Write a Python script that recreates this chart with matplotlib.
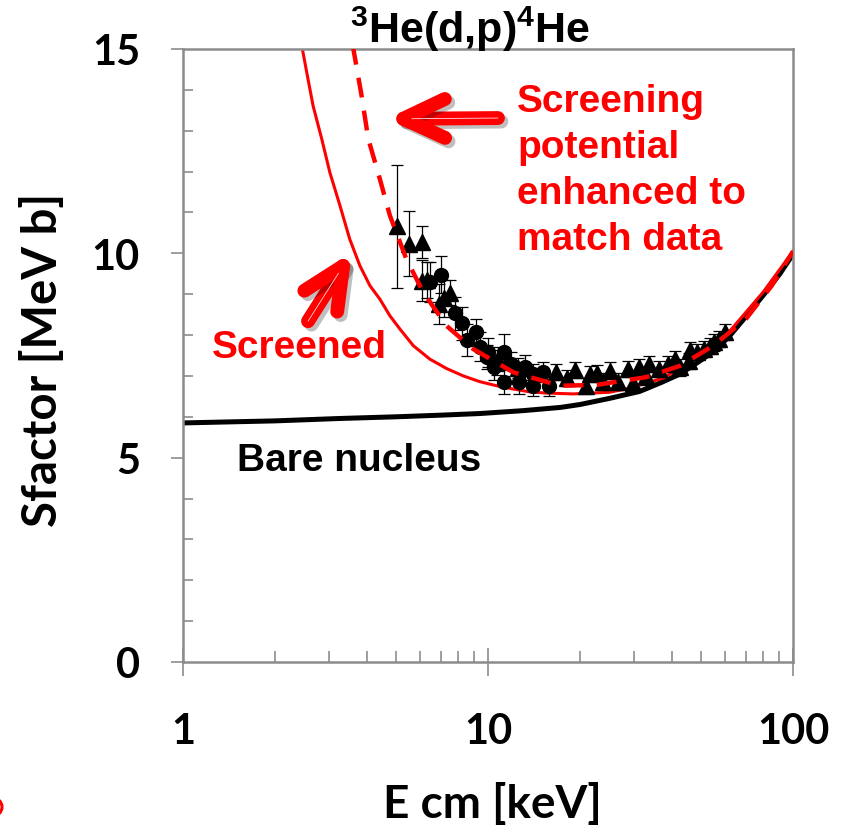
import numpy as np
import matplotlib
matplotlib.use("Agg")
import matplotlib.pyplot as plt
import matplotlib.patheffects as pe
from matplotlib.patches import Ellipse
from matplotlib.ticker import MultipleLocator, NullFormatter

plt.rcParams['mathtext.fontset'] = 'custom'
plt.rcParams['mathtext.rm'] = 'Liberation Sans:bold'
plt.rcParams['mathtext.bf'] = 'Liberation Sans:bold'

##data
# bare nucleus S-factor
bare_E = [1, 2, 3.3, 5, 7, 9.4, 13, 17.3, 20, 25, 31.4, 37, 42.7, 48, 55, 62, 70, 80, 90.6, 100]
bare_S = [5.85, 5.9, 5.96, 6.0, 6.04, 6.08, 6.15, 6.23, 6.3, 6.45, 6.62, 6.84, 7.05, 7.3, 7.6, 7.98, 8.45, 8.98, 9.5, 9.98]

# screened
scr_E = [2.42, 2.57, 2.67, 2.85, 3.03, 3.27, 3.52, 3.8, 4.1, 4.42, 4.77, 5.14, 5.69, 6.45,
         7.32, 8.3, 9.4, 10.67, 12.1, 13.7, 15.6, 19.0, 25, 29.2, 37.6, 48.4, 62.1, 79.8, 100]
scr_S = [15.3, 14.26, 13.61, 12.8, 11.98, 11.17, 10.35, 9.7, 9.21, 8.88, 8.47, 8.15, 7.74, 7.41,
         7.18, 7.0, 6.86, 6.76, 6.68, 6.61, 6.58, 6.56, 6.6, 6.7, 6.95, 7.45, 8.1, 9.05, 10.05]

# screening potential enhanced (dashed)
enh_E = [3.6, 3.85, 4.05, 4.42, 4.77, 5.4, 6.13, 7.3, 8.94, 12.1, 17.2, 22.7, 33.0, 42.7, 55, 70.2, 85, 100]
enh_S = [15.1, 13.86, 12.8, 11.82, 10.92, 9.86, 9.05, 8.23, 7.66, 7.09, 6.76, 6.78, 6.97, 7.25, 7.75, 8.4, 9.2, 10.05]

# data, triangles
tri_E = [5.02, 5.52, 6.06, 6.06, 6.3, 6.93, 7.2, 7.51, 10.67, 10.75, 12.5,
         16.7, 18.1, 19.3, 20.9, 21.6, 22.8, 23.9, 25.1, 26.7, 28.8, 29.9, 31.2,
         33.0, 33.7, 36.3, 39.0, 41.1, 42.7, 45.5, 45.8, 48.4, 50.9, 53.6, 54.9,
         57.0, 59.9]
tri_S = [10.66, 10.24, 10.28, 9.33, 9.35, 8.76, 8.9, 9.04, 7.33, 7.41, 7.2,
         7.09, 6.95, 7.14, 6.76, 7.05, 7.07, 6.86, 7.13, 6.86, 7.17, 6.83, 7.21,
         6.99, 7.29, 7.17, 7.29, 7.41, 7.21, 7.37, 7.64, 7.58, 7.66, 7.74, 7.82,
         7.90, 8.07]
tri_err = [1.5, 0.8, 0.4, 0.5, 0.45, 0.5, 0.45, 0.3, 0.3, 0.3, 0.25,
           0.2, 0.2, 0.2, 0.2, 0.2, 0.2, 0.2, 0.2, 0.2, 0.2, 0.2, 0.2,
           0.2, 0.2, 0.2, 0.2, 0.2, 0.2, 0.2, 0.2, 0.2, 0.2, 0.2, 0.2,
           0.2, 0.2]

# data, circles
cir_E = [6.45, 7.01, 7.8, 8.2, 9.1, 8.55, 9.4, 10.0, 9.9, 10.5, 11.3, 11.9,
         11.3, 12.6, 13.2, 14.0, 14.0, 15.2, 15.8]
cir_S = [9.3, 9.48, 8.53, 8.29, 8.07, 7.88, 7.72, 7.58, 7.46, 7.21, 7.59, 7.29,
         6.86, 6.86, 7.21, 7.05, 6.75, 7.1, 6.75]
cir_err = [0.5, 0.45, 0.4, 0.4, 0.33, 0.4, 0.35, 0.35, 0.3, 0.3, 0.44, 0.3,
           0.3, 0.3, 0.3, 0.25, 0.25, 0.25, 0.25]

W, H = 848, 829

def fx(px):
    return px / W

def fy(py):
    return 1 - py / H

def main():
    fig = plt.figure(figsize=(W / 100, H / 100), dpi=100)
    ax = fig.add_axes([fx(183), fy(663), fx(793) - fx(183), fy(50) - fy(663)])
    ax.set_xscale("log")

    ax.plot(bare_E, bare_S, color="black", lw=3.6, zorder=2, solid_capstyle="butt")
    ax.plot(scr_E, scr_S, color="red", lw=2.2, zorder=2)

    ax.errorbar(tri_E, tri_S, yerr=tri_err, fmt="^", color="black", ms=11,
                ecolor="black", elinewidth=0.9, capsize=4, capthick=0.9, zorder=3)
    ax.errorbar(cir_E, cir_S, yerr=cir_err, fmt="o", color="black", ms=10,
                ecolor="black", elinewidth=0.9, capsize=4, capthick=0.9, zorder=3)

    ax.plot(enh_E, enh_S, color="red", lw=3.2, ls=(0, (4.5, 3)), zorder=4)

    ax.set_xlim(1, 100)
    ax.set_ylim(0, 15)

    gray = "#8c8c8c"
    for s in ax.spines.values():
        s.set_color(gray)
        s.set_linewidth(1.8)

    ax.set_yticks([0, 5, 10, 15])
    ax.yaxis.set_minor_locator(MultipleLocator(1))
    ax.set_xticks([1, 10, 100], ["1", "10", "100"])
    ax.xaxis.set_minor_formatter(NullFormatter())

    ax.tick_params(axis="y", which="major", direction="out", length=9, width=1.2,
                   color=gray, pad=22, labelsize=30)
    ax.tick_params(axis="y", which="minor", direction="in", length=7, width=1.2, color=gray)
    ax.tick_params(axis="x", which="major", direction="inout", length=20, width=1.2,
                   color=gray, pad=26, labelsize=30)
    ax.tick_params(axis="x", which="minor", direction="in", length=8, width=1.2, color=gray)
    for lab in ax.get_xticklabels() + ax.get_yticklabels():
        lab.set_fontfamily("Lato")
        lab.set_fontweight("bold")

    fig.text(fx(43), fy(360), "Sfactor [MeV b]", rotation=90, ha="center", va="center",
             fontsize=34, fontweight="bold", family="Lato")
    fig.text(fx(492), fy(805), "E cm [keV]", ha="center", va="center",
             fontsize=33, fontweight="bold", family="Lato")

    fig.text(fx(470), fy(29), r"$^{3}$He(d,p)$^{4}$He", ha="center", va="center",
             fontsize=31, fontweight="bold", family="Liberation Sans")

    tkw = dict(fontsize=28, fontweight="bold", family="Liberation Sans")
    lines = ["Screening", "potential", "enhanced to", "match data"]
    for i, t in enumerate(lines):
        fig.text(fx(517), fy(112 + 46 * i), t, color="red", ha="left", va="baseline", **tkw)
    fig.text(fx(212), fy(358), "Screened", color="red", ha="left", va="baseline", **tkw)
    fig.text(fx(237), fy(471), "Bare nucleus", color="black", ha="left", va="baseline", **tkw)

    # arrows
    shadow = [pe.SimpleLineShadow(offset=(2.5, -2.5), shadow_color="k", alpha=0.25), pe.Normal()]
    arrows = [((10.78, 13.31), (4.66, 13.29)), ((2.57, 8.34), (3.58, 10.03))]
    for tail, tip in arrows:
        ax.annotate("", xy=tip, xytext=tail, xycoords="data", textcoords="data",
                    arrowprops=dict(arrowstyle="->,head_length=3.0,head_width=1.4",
                                    mutation_scale=10, lw=10, color="red",
                                    capstyle="round", joinstyle="round",
                                    shrinkA=0, shrinkB=0, path_effects=shadow),
                    annotation_clip=False, zorder=5)
        ax.annotate("", xy=tip, xytext=tail, xycoords="data", textcoords="data",
                    arrowprops=dict(arrowstyle="-", lw=0.6, color="#ffd6d6",
                                    shrinkA=0, shrinkB=18),
                    annotation_clip=False, zorder=6)

    fig.add_artist(Ellipse((fx(-7), fy(808)), 18 / W, 18 / H, transform=fig.transFigure,
                           fill=False, edgecolor="red", lw=2.2))

    fig.savefig("out.png", dpi=100)

if __name__ == "__main__":
    main()
